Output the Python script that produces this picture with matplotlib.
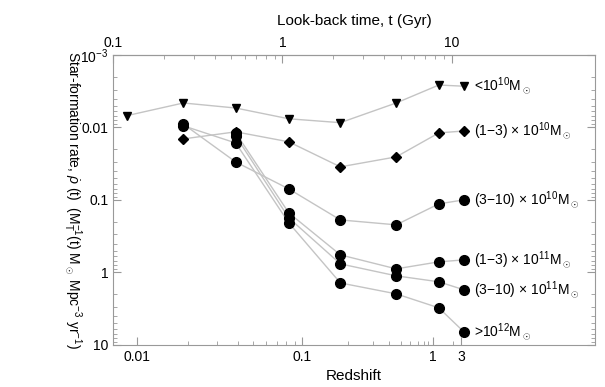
import numpy as np
import matplotlib
matplotlib.use("Agg")
import matplotlib.pyplot as plt
from matplotlib.ticker import NullFormatter

plt.rcParams["font.family"] = ["Liberation Sans", "DejaVu Sans"]
plt.rcParams["mathtext.fontset"] = "custom"
plt.rcParams["mathtext.rm"] = "Liberation Sans"
plt.rcParams["mathtext.it"] = "Liberation Sans:italic"

# look-back time of each bin (Gyr)
lookback_t = [0.12, 0.26, 0.53, 1.09, 2.2, 4.7, 8.4, 11.8]

# star-formation rate per unit mass, by mass class
sfr_lt1e10 = [0.0069, 0.0046, 0.0054, 0.0076, 0.0086, 0.0046, 0.0026, 0.0027]
sfr_1_3e10 = [None, 0.0144, 0.0115, 0.0158, 0.035, 0.0255, 0.0119, 0.0112]
sfr_3_10e10 = [None, 0.0090, 0.030, 0.0705, 0.189, 0.221, 0.1135, 0.100]
sfr_1_3e11 = [None, None, 0.0119, 0.151, 0.574, 0.895, 0.716, 0.673]
sfr_3_10e11 = [None, None, 0.0131, 0.177, 0.764, 1.117, 1.35, 1.74]
sfr_gt1e12 = [None, 0.0095, 0.0164, 0.207, 1.40, 1.98, 3.09, 6.62]

labels = [r"<10$^{10}$M$_\odot$", r"(1$-$3) $\times$ 10$^{10}$M$_\odot$",
          r"(3$-$10) $\times$ 10$^{10}$M$_\odot$", r"(1$-$3) $\times$ 10$^{11}$M$_\odot$",
          r"(3$-$10) $\times$ 10$^{11}$M$_\odot$", r">10$^{12}$M$_\odot$"]
series = [sfr_lt1e10, sfr_1_3e10, sfr_3_10e10, sfr_1_3e11, sfr_3_10e11, sfr_gt1e12]
markers = ["v", "D", "o", "o", "o", "o"]
msizes = [6, 5.5, 7, 7, 7, 7]

z_major = [0.01, 0.1, 1, 3]
z_minor = [0.02, 0.03, 0.04, 0.05, 0.06, 0.07, 0.08, 0.09,
           0.2, 0.3, 0.4, 0.5, 0.6, 0.7, 0.8, 0.9, 2]


def z_to_t(z):
    zz = np.linspace(0, z, 2001)
    f = 1.0 / ((1 + zz) * np.sqrt(0.3 * (1 + zz) ** 3 + 0.7))
    return 977.8 / 70.0 * np.trapezoid(f, zz)


fig = plt.figure(figsize=(6.05, 3.87), dpi=100)
ax = fig.add_axes([0.187, 0.109, 0.796, 0.749])

for vals, lab, m, ms in zip(series, labels, markers, msizes):
    xs = [t for t, v in zip(lookback_t, vals) if v is not None]
    ys = [v for v in vals if v is not None]
    ax.plot(xs, ys, color="#c4c4c4", lw=1, zorder=1)
    ax.plot(xs, ys, ls="none", marker=m, ms=ms, color="black", zorder=2)
    ax.annotate(lab, (xs[-1], ys[-1]), xytext=(7, 0), textcoords="offset points",
                va="center", ha="left", fontsize=10)

ax.set_xscale("log")
ax.set_yscale("log")
ax.set_xlim(0.1, 70)
ax.set_ylim(10, 1e-3)

# redshift on the bottom axis
ax.set_xticks([z_to_t(z) for z in z_major])
ax.set_xticklabels(["0.01", "0.1", "1", "3"])
ax.set_xticks([z_to_t(z) for z in z_minor], minor=True)
ax.xaxis.set_minor_formatter(NullFormatter())
ax.set_xlabel("Redshift", fontsize=11)

ax.set_yticks([1e-3, 0.01, 0.1, 1, 10])
ax.set_yticklabels([r"10$^{-3}$", "0.01", "0.1", "1", "10"])
ax.yaxis.set_minor_formatter(NullFormatter())
ax.set_ylabel(r"Star-formation rate, $\dot{\rho}$ (t)  (M$_{\rm T}^{-1}$(t) M$_\odot$ Mpc$^{-3}$ yr$^{-1}$)",
              fontsize=10, rotation=270, labelpad=14)

# look-back time on the top axis
top = ax.secondary_xaxis("top")
top.set_xticks([0.1, 1, 10])
top.set_xticklabels(["0.1", "1", "10"])
top.set_xticks([0.2, 0.3, 0.4, 0.5, 0.6, 0.7, 0.8, 0.9,
                2, 3, 4, 5, 6, 7, 8, 9], minor=True)
top.xaxis.set_minor_formatter(NullFormatter())
top.set_xlabel("Look-back time, t (Gyr)", fontsize=11, labelpad=8)
top.tick_params(which="both", direction="in", color="0.6", labelsize=10)
top.tick_params(which="major", length=6)
top.tick_params(which="minor", length=3)
top.spines["top"].set_color("0.6")

ax.tick_params(which="both", direction="in", color="0.6", labelsize=10, right=True)
ax.tick_params(which="major", length=6)
ax.tick_params(which="minor", length=3)
for s in ax.spines.values():
    s.set_color("0.6")

fig.savefig("out.png", dpi=100)
